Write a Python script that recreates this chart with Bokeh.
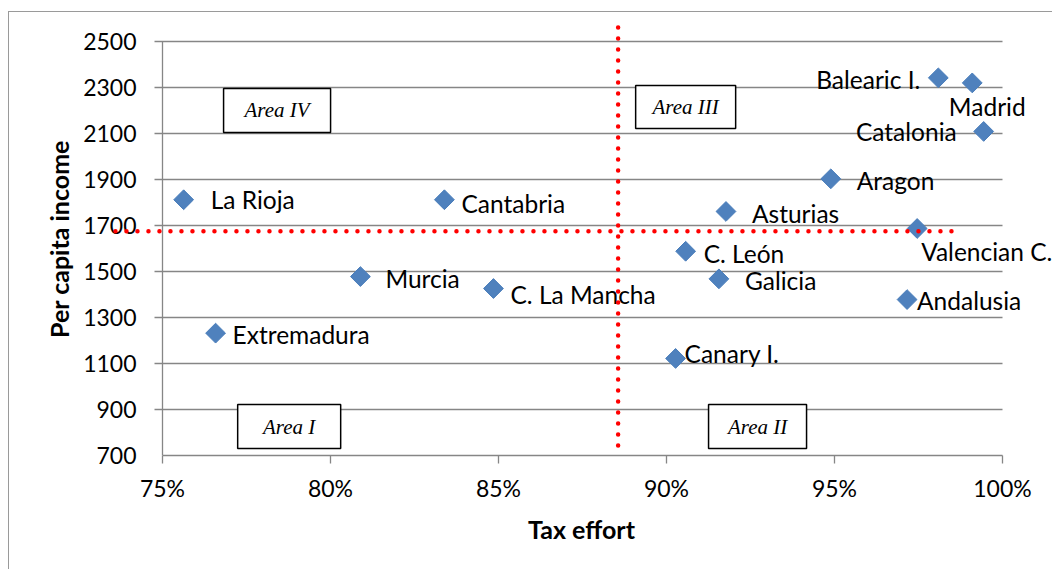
import numpy as np
from bokeh.plotting import figure
from bokeh.models import Range1d, FixedTicker, NumeralTickFormatter, Arrow, ColumnDataSource
from bokeh.core.properties import value
from bokeh.embed import file_html
from bokeh.resources import INLINE

# ---- data ----
regions = ["La Rioja", "Cantabria", "Murcia", "C. La Mancha", "Extremadura",
           "Canary I.", "C. León", "Galicia", "Asturias", "Aragon",
           "Balearic I.", "Madrid", "Catalonia", "Valencian C.", "Andalusia"]
tax_effort = [0.7563, 0.8339, 0.8089, 0.8485, 0.7658,
              0.9027, 0.9057, 0.9156, 0.9177, 0.9489,
              0.9809, 0.9910, 0.9944, 0.9746, 0.9716]
per_capita_income = [1812, 1812, 1478, 1426, 1232,
                     1122, 1588, 1468, 1761, 1903,
                     2342, 2320, 2109, 1687, 1378]

x_ticks = [0.75, 0.80, 0.85, 0.90, 0.95, 1.00]
y_ticks = [700, 900, 1100, 1300, 1500, 1700, 1900, 2100, 2300, 2500]

tax_threshold = 0.8856      # vertical dotted line
income_threshold = 1675     # horizontal dotted line

area_names = ["Area IV", "Area III", "Area I", "Area II"]

# ---- label placement (styles) ----
label_dx = [27, 17, 25, 17, 17, 9, 18, 26, 26, 26, -18, 15, -27, 4, 10]
label_dy = [0, 4, 2, 6, 1, -5, 2, 2, 2, 2, 2, 24, 0, 23, 1]
label_align = ["left"] * 10 + ["right", "center", "right", "left", "left"]

area_x = [0.7841, 0.9057, 0.7877, 0.9271]
area_y = [2200, 2215, 826, 826]
area_w = [107, 100, 103, 98]
area_h = [44, 43, 44, 44]

FONT = "Lato"
GRID = "#868686"

# frame is a bit wider/taller than the axes so the dotted lines and labels can overflow
X0, X1 = 0.734226, 1.015179
Y0, Y1 = 700, 2582.6
TICK_X = 0.75 - 8 / 3360   # left end of the y tick marks (8 px)

p = figure(width=1044, height=558, output_backend="svg", toolbar_location=None,
           x_range=Range1d(X0, X1), y_range=Range1d(Y0, Y1),
           min_border_left=100, min_border_right=0, min_border_top=10,
           min_border_bottom=115)
p.margin = (11, 0, 0, 8)
p.styles = {"border-left": "1px solid #9a9a9a", "border-top": "1px solid #9a9a9a"}
p.outline_line_color = None
p.background_fill_color = "white"
p.border_fill_color = "white"

# horizontal grid (also draws the 8px y tick marks)
p.ygrid.grid_line_color = GRID
p.ygrid.grid_line_width = 1.3
p.ygrid.ticker = FixedTicker(ticks=y_ticks)
p.ygrid.cross_bounds = (TICK_X, x_ticks[-1])
# vertical axis line at 75%
p.xgrid.grid_line_color = GRID
p.xgrid.grid_line_width = 1.3
p.xgrid.ticker = FixedTicker(ticks=[x_ticks[0]])
p.xgrid.cross_bounds = (y_ticks[0], y_ticks[-1])

# axes
for ax in (p.xaxis[0], p.yaxis[0]):
    ax.axis_line_color = GRID
    ax.axis_line_width = 1.3
    ax.major_tick_line_color = GRID
    ax.major_tick_line_width = 1.3
    ax.major_tick_in = 0
    ax.major_tick_out = 8
    ax.minor_tick_line_color = None
    ax.major_label_text_font = FONT
    ax.major_label_text_font_size = "23px"
    ax.major_label_text_color = "black"
    ax.axis_label_text_font = FONT
    ax.axis_label_text_font_size = "25px"
    ax.axis_label_text_font_style = "bold"
    ax.axis_label_text_color = "black"

p.xaxis.ticker = FixedTicker(ticks=x_ticks)
p.xaxis.bounds = (x_ticks[0], x_ticks[-1])
p.xaxis.formatter = NumeralTickFormatter(format="0%")
p.xaxis.axis_label = "Tax effort"
p.xaxis.major_label_standoff = 10
p.xaxis.axis_label_standoff = 9

p.yaxis.ticker = FixedTicker(ticks=y_ticks)
p.yaxis.axis_line_color = None
p.yaxis.major_tick_line_color = None
p.yaxis.major_tick_out = 0
p.yaxis.major_label_standoff = -27
p.yaxis.axis_label = "Per capita income"
p.yaxis.axis_label_standoff = 6

# area boxes
asrc = ColumnDataSource(dict(x=area_x, y=area_y, w=area_w, h=area_h, t=area_names))
p.rect(x="x", y="y", width="w", height="h", width_units="screen", height_units="screen",
       source=asrc, fill_color="white", line_color="black", line_width=1.5)
p.text(x="x", y="y", text="t", source=asrc, text_align="center", text_baseline="middle",
       text_font=value("Liberation Serif"), text_font_style="italic",
       text_font_size="21px", text_color="black")

# points
src = ColumnDataSource(dict(x=tax_effort, y=per_capita_income, name=regions,
                            dx=label_dx, dy=label_dy, al=label_align))
p.scatter(x="x", y="y", source=src, marker="square", angle=np.pi / 4, size=14,
          fill_color="#4F81BD", line_color="#4A7EBB", line_width=1)
p.text(x="x", y="y", text="name", source=src, x_offset="dx", y_offset="dy",
       text_align="al", text_baseline="middle", text_font=value(FONT),
       text_font_size="24.5px", text_color="black")

# dotted threshold lines
p.add_layout(Arrow(start=None, end=None, x_start=tax_threshold, x_end=tax_threshold,
                   y_start=743, y_end=2565, line_color="red", line_width=4.5,
                   line_dash="0 11", line_cap="round"))
p.add_layout(Arrow(start=None, end=None, x_start=0.736, x_end=0.9875,
                   y_start=income_threshold, y_end=income_threshold, line_color="red",
                   line_width=4.5, line_dash="0 11", line_cap="round"))

open("out.html", "w").write(file_html(p, INLINE))
